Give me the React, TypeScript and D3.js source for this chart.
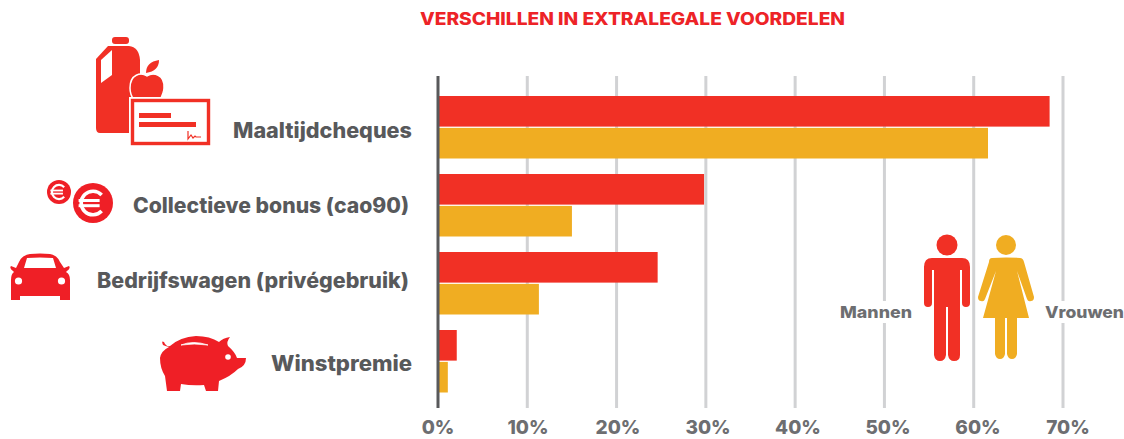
import React from "react";
import * as d3 from "d3";

const categories = ["Maaltijdcheques", "Collectieve bonus (cao90)", "Bedrijfswagen (privégebruik)", "Winstpremie"];
const mannen = [68.5, 29.8, 24.6, 2.1];
const vrouwen = [61.6, 15, 11.3, 1.1];
const ticks = [0, 10, 20, 30, 40, 50, 60, 70];
const series = ["Mannen", "Vrouwen"];

const RED = "#f13025";
const CAR_RED = "#ef1f26";
const YELLOW = "#f0ad22";
const FONT = "Inter, 'Open Sans', sans-serif";

const x = d3.scaleLinear().domain([0, 70]).range([438, 1063]);
// the tick labels in the picture drift a little to the right of their gridlines
const xLabel = d3.scaleLinear().domain([0, 70]).range([438, 1068]);
const y = d3.scaleBand().domain(categories).range([88, 400]);
const inner = d3.scaleBand().domain(series).range([8, 70.5]).paddingInner(0.04);

const Title = () => (
  <text x={632.5} y={25} textAnchor="middle" fill="#ed2327" fontFamily={FONT} fontWeight={800} fontSize={17} textLength={425} lengthAdjust="spacingAndGlyphs">
    VERSCHILLEN IN EXTRALEGALE VOORDELEN
  </text>
);

const labelRight = [412, 409, 409, 412];
const labelWidths = [179, 276, 312, 141];
const labelY = [138, 213, 288, 371];

const Food = () => (
  <g>
    <rect x={112} y={37} width={17} height={7} rx={3} fill={RED} />
    <path d="M108 46H129Q139 47 140 60V133H100Q96 133 96 128V59Z" fill={RED} />
    <path d="M112 50V75L101 83V60Z" fill="#fff" />
    <path d="M147 76C153 72 165 74 164 88C164 92 162 96 160 100H134C131 96 130 92 130 88C130 74 141 72 147 76Z" fill={RED} stroke="#fff" strokeWidth={1.5} />
    <path d="M146 73Q146 62 159 60Q159 71 146 73Z" fill={RED} />
    <rect x={129} y={97} width={82} height={50} fill="#fff" />
    <rect x={132.5} y={100.5} width={76} height={43} fill="#fff" stroke={RED} strokeWidth={3.4} />
    <rect x={139} y={113} width={32} height={5} fill={RED} />
    <rect x={139} y={122} width={57} height={5} fill={RED} />
    <path d="M188 131V139L191 135L193 138L195 136L196 137H201" fill="none" stroke={RED} strokeWidth={1.2} />
  </g>
);

const Coin = ({ cx, cy, r }: { cx: number; cy: number; r: number }) => {
  const ring = d3.arc()({
    innerRadius: r * 0.5,
    outerRadius: r * 0.68,
    startAngle: Math.PI / 2 + 0.75,
    endAngle: Math.PI / 2 + Math.PI * 2 - 0.75,
  } as any) as string;
  return (
    <g transform={`translate(${cx},${cy})`}>
      <circle r={r} fill={CAR_RED} />
      <path d={ring} fill="#fff" />
      <rect x={-r * 0.72} y={-r * 0.2} width={r * 1.05} height={r * 0.15} fill="#fff" />
      <rect x={-r * 0.72} y={r * 0.06} width={r * 1.05} height={r * 0.15} fill="#fff" />
    </g>
  );
};

const Car = () => (
  <g>
    <path
      d="M19 262Q22 255 30 254Q40 253 50 254Q57 255 60 262L64 268L69 266Q71 268 67 271L66 272Q70 274 70 280V300H60V296H20V300H11V280Q11 274 14 272L13 271Q9 268 11 266L16 268ZM27 258L24 268H56L53 258Q40 257 27 258Z"
      fillRule="evenodd"
      fill={CAR_RED}
    />
    <circle cx={18.5} cy={281} r={3.6} fill="#fff" />
    <circle cx={61.5} cy={281} r={3.6} fill="#fff" />
  </g>
);

const Pig = () => (
  <g>
    <path
      d="M169 347Q165 346 163 345Q161 340 164 342Q166 347 170 346Q180 337 196 336Q210 336 219 342Q223 338 230 337Q226 342 228 346Q235 352 237 358H246Q246 366 238 369Q231 376 219 381L218 391H206L204 385Q192 386 181 384L180 391H167L165 376Q160 368 160 358Q161 351 169 347Z"
      fill={CAR_RED}
    />
    <path d="M181 345Q193 340 208 345Q194 343 181 345Z" fill="#fff" stroke="#fff" strokeWidth={0.8} />
    <circle cx={228} cy={357} r={2.8} fill="#fff" />
  </g>
);

const Man = () => (
  <g fill={RED}>
    <circle cx={947} cy={245} r={10.5} />
    <path d="M932 258H962Q970 258 970 267V303Q970 307 966 307Q962 307 962 303V270H960V355Q960 361 954 361Q949 361 948 355V307H946V355Q945 361 940 361Q935 361 934 355V270H932V303Q932 307 928 307Q924 307 924 303V267Q924 258 932 258Z" />
  </g>
);

const Woman = () => (
  <g fill={YELLOW}>
    <circle cx={1006} cy={245} r={10} />
    <path d="M992 258Q1006 257 1020 258Q1023 258 1024 262L1034 297Q1034 301 1031 301Q1028 302 1027 299L1017 271L1029 318H1017V354Q1016 359 1012 359Q1008 359 1007 354V318H1005V354Q1004 359 1000 359Q996 359 995 354V318H983L996 271L985 299Q984 302 981 301Q978 301 978 297L989 262Q989 258 992 258Z" />
  </g>
);

export default function App() {
  return (
    <svg width={1124} height={439} style={{ position: "absolute", left: 0, top: 0, background: "#fff" }}>
      <Title />
      <Food />
      <Coin cx={59} cy={192} r={12} />
      <Coin cx={93} cy={203} r={20} />
      <Car />
      <Pig />

      {ticks.slice(1).map((t) => (
        <line key={t} x1={x(t)} x2={x(t)} y1={76} y2={408} stroke="#d1d2d4" strokeWidth={3} />
      ))}

      {categories.map((c, i) => (
        <g key={c} transform={`translate(0,${y(c)})`}>
          <rect x={x(0)} y={inner("Mannen")} width={x(mannen[i]) - x(0)} height={inner.bandwidth()} fill={RED} />
          <rect x={x(0)} y={inner("Vrouwen")} width={x(vrouwen[i]) - x(0)} height={inner.bandwidth()} fill={YELLOW} />
        </g>
      ))}

      <line x1={x(0)} x2={x(0)} y1={76} y2={408} stroke="#58595b" strokeWidth={3} />

      {categories.map((c, i) => (
        <text key={c} x={labelRight[i]} y={labelY[i]} textAnchor="end" fill="#58595b" fontFamily={FONT} fontWeight={800} fontSize={21} textLength={labelWidths[i]} lengthAdjust="spacingAndGlyphs">
          {c}
        </text>
      ))}

      {ticks.map((t) => (
        <text key={t} x={xLabel(t)} y={434} textAnchor="middle" fill="#6d6e71" fontFamily={FONT} fontWeight={800} fontSize={19}>
          {t}%
        </text>
      ))}

      <rect x={838} y={301} width={76} height={22} fill="#fff" />
      <rect x={1043} y={301} width={81} height={22} fill="#fff" />
      <text x={840} y={318} fill="#6d6e71" fontFamily={FONT} fontWeight={800} fontSize={16.5} textLength={72} lengthAdjust="spacingAndGlyphs">Mannen</text>
      <text x={1045} y={318} fill="#6d6e71" fontFamily={FONT} fontWeight={800} fontSize={16.5} textLength={79} lengthAdjust="spacingAndGlyphs">Vrouwen</text>
      <Man />
      <Woman />
    </svg>
  );
}
